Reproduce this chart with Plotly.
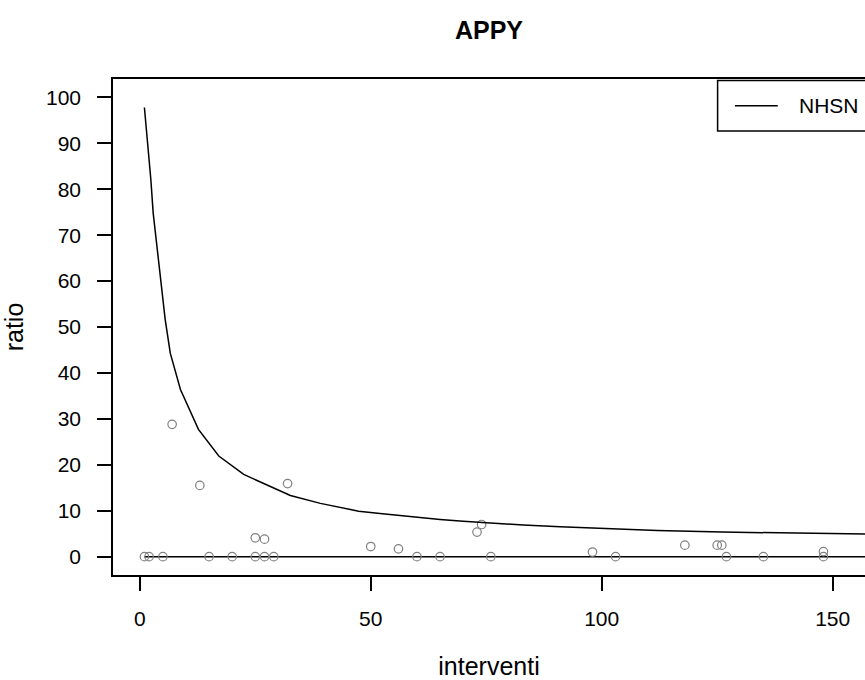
import plotly.graph_objects as go

# observed cases per hospital (interventi, ratio)
interventi = [1, 2, 5, 7, 13, 15, 20, 25, 25, 27, 27, 29, 32, 50, 56, 60, 65,
              73, 74, 76, 98, 103, 118, 125, 126, 127, 135, 148, 148]
ratio = [0, 0, 0, 28.8, 15.5, 0, 0, 4.1, 0, 3.8, 0, 0, 15.9, 2.2, 1.7, 0, 0,
         5.35, 7.0, 0, 1.0, 0, 2.5, 2.5, 2.5, 0, 0, 1.1, 0]

# NHSN limit curve
nhsn_x = [1, 1.7, 2.4, 2.9, 3.7, 4.6, 5.5, 6.6, 8.8, 12.7, 17.1, 22.5, 27.5,
          32.6, 39.1, 47.4, 52, 56, 60, 65, 70, 76, 83, 91, 100, 112, 126,
          145, 165]
nhsn_y = [97.8, 90.7, 82, 74.8, 67.5, 58.8, 51.6, 44.3, 36.4, 27.7, 21.9,
          17.9, 15.7, 13.3, 11.6, 9.9, 9.4, 9.0, 8.5, 8.1, 7.7, 7.3, 6.9, 6.5,
          6.1, 5.7, 5.35, 5.0, 4.8]

# zero reference line
base_x = [1, 165]
base_y = [0, 0]

FONT = "Liberation Sans, Arial, sans-serif"

fig = go.Figure()
fig.add_trace(go.Scatter(x=base_x, y=base_y, mode="lines",
                         line=dict(color="black", width=1.5),
                         showlegend=False, hoverinfo="skip"))
fig.add_trace(go.Scatter(x=interventi, y=ratio, mode="markers",
                         marker=dict(symbol="circle-open", size=8.5,
                                     color="#808080", line=dict(width=1.2)),
                         showlegend=False))
fig.add_trace(go.Scatter(x=nhsn_x, y=nhsn_y, mode="lines", name="NHSN",
                         line=dict(color="black", width=1.5),
                         showlegend=False))

# legend box (cut off on the right like the original)
fig.add_shape(type="rect", xref="paper", yref="paper",
              x0=0.804, x1=1.08, y0=0.895, y1=0.997,
              line=dict(color="black", width=1.5))
fig.add_shape(type="line", xref="paper", yref="paper",
              x0=0.827, x1=0.884, y0=0.946, y1=0.946,
              line=dict(color="black", width=1.5))
fig.add_annotation(text="NHSN", xref="paper", yref="paper", x=0.909, y=0.946,
                   xanchor="left", yanchor="middle", showarrow=False,
                   font=dict(size=21, color="black", family=FONT))

fig.update_layout(
    width=865, height=680,
    margin=dict(l=113, r=0, t=79, b=105),
    plot_bgcolor="white", paper_bgcolor="white",
    font=dict(family=FONT, size=21, color="black"),
    title=dict(text="<b>APPY</b>", x=0.5, xref="paper", xanchor="center",
               y=0.956, yanchor="middle", font=dict(size=25)),
)
fig.update_xaxes(range=[-5.8, 157], tickvals=[0, 50, 100, 150],
                 showgrid=False, zeroline=False,
                 showline=True, linecolor="black", linewidth=1.5, mirror=True,
                 ticks="outside", ticklen=14, tickwidth=1.5, tickcolor="black",
                 ticklabelstandoff=10,
                 title=dict(text="interventi", standoff=33))
fig.update_yaxes(range=[-4, 104], tickvals=list(range(0, 101, 10)),
                 showgrid=False, zeroline=False,
                 showline=True, linecolor="black", linewidth=1.5,
                 ticks="outside", ticklen=14, tickwidth=1.5, tickcolor="black",
                 ticklabelstandoff=12,
                 title=dict(text="ratio", standoff=18))

# drop the default page margin so the chart sits at the window's corner
fig.write_html("out.html", config={"displayModeBar": False},
               post_script="document.body.style.margin='0';")
